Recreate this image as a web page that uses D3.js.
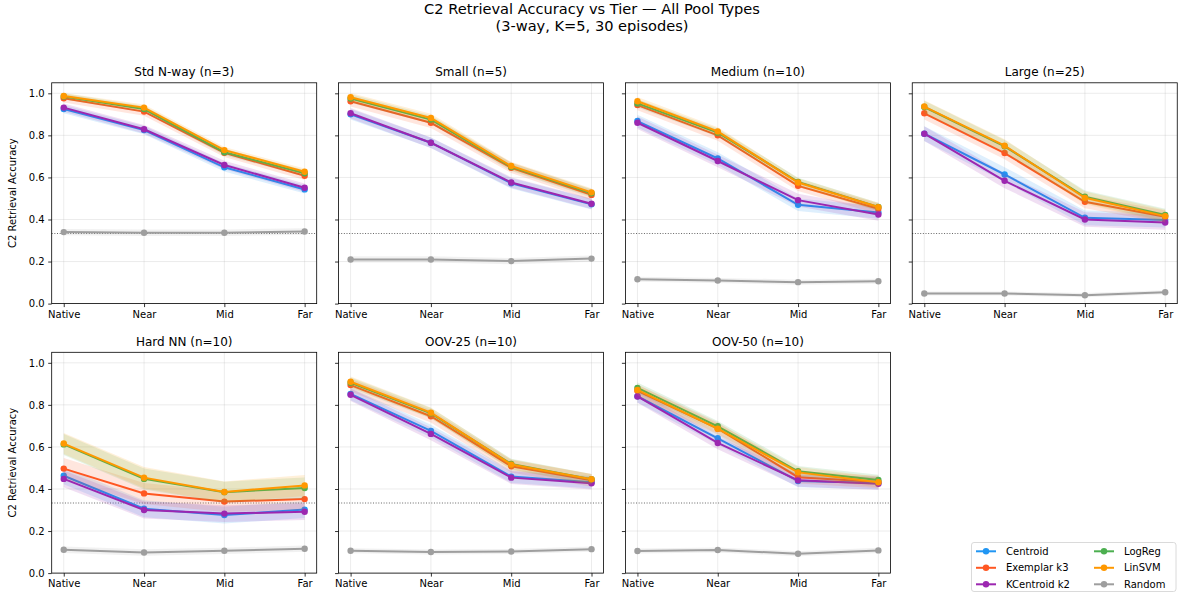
<!DOCTYPE html>
<html>
<head>
<meta charset="utf-8">
<script src="https://cdn.jsdelivr.net/npm/d3@7"></script>
<style>
  html, body { margin: 0; padding: 0; background: #fff; }
  svg { display: block; font-family: "DejaVu Sans", sans-serif; }
</style>
</head>
<body>
<svg id="chart" width="1179" height="594"></svg>
<script>
// ---------------- data ----------------
const tiers = ["Native", "Near", "Mid", "Far"];
const panelTitles = ["Std N-way (n=3)", "Small (n=5)", "Medium (n=10)", "Large (n=25)",
                     "Hard NN (n=10)", "OOV-25 (n=10)", "OOV-50 (n=10)"];
const seriesNames = ["Centroid", "Exemplar k3", "KCentroid k2", "LogReg", "LinSVM", "Random"];
const seriesColors = ["#2196F3", "#FF5722", "#9C27B0", "#4CAF50", "#FF9800", "#9E9E9E"];
const yTicks = [0.0, 0.2, 0.4, 0.6, 0.8, 1.0];
const chanceLevel = 1 / 3;

// values per panel (rows) x tier (cols)
const centroid = [
  [0.925, 0.825, 0.648, 0.543],
  [0.900, 0.765, 0.572, 0.472],
  [0.868, 0.690, 0.470, 0.433],
  [0.808, 0.614, 0.408, 0.397],
  [0.463, 0.306, 0.276, 0.302],
  [0.852, 0.676, 0.459, 0.432],
  [0.841, 0.641, 0.438, 0.429]
];
const exemplarK3 = [
  [0.976, 0.913, 0.717, 0.608],
  [0.962, 0.860, 0.646, 0.517],
  [0.944, 0.800, 0.560, 0.451],
  [0.905, 0.716, 0.484, 0.413],
  [0.497, 0.379, 0.340, 0.352],
  [0.894, 0.746, 0.508, 0.441],
  [0.867, 0.687, 0.456, 0.433]
];
const kcentroidK2 = [
  [0.932, 0.829, 0.659, 0.551],
  [0.905, 0.765, 0.576, 0.475],
  [0.860, 0.678, 0.492, 0.424],
  [0.808, 0.584, 0.400, 0.386],
  [0.448, 0.300, 0.283, 0.292],
  [0.848, 0.662, 0.454, 0.427],
  [0.840, 0.619, 0.441, 0.425]
];
const logReg = [
  [0.985, 0.925, 0.720, 0.620],
  [0.975, 0.875, 0.650, 0.525],
  [0.952, 0.813, 0.579, 0.460],
  [0.935, 0.748, 0.508, 0.421],
  [0.612, 0.448, 0.385, 0.405],
  [0.905, 0.760, 0.519, 0.446],
  [0.881, 0.698, 0.484, 0.443]
];
const linSVM = [
  [0.987, 0.932, 0.730, 0.627],
  [0.981, 0.883, 0.654, 0.529],
  [0.962, 0.819, 0.576, 0.459],
  [0.937, 0.751, 0.503, 0.416],
  [0.616, 0.454, 0.386, 0.417],
  [0.910, 0.763, 0.516, 0.446],
  [0.871, 0.687, 0.479, 0.432]
];
const random = [
  [0.340, 0.337, 0.337, 0.343],
  [0.210, 0.210, 0.202, 0.214],
  [0.116, 0.110, 0.102, 0.106],
  [0.048, 0.048, 0.040, 0.054],
  [0.111, 0.098, 0.106, 0.116],
  [0.106, 0.100, 0.103, 0.114],
  [0.105, 0.110, 0.092, 0.108]
];
// 95% CI half-widths per panel (rows) x series (cols)
const ciHalf = [
  [0.020, 0.020, 0.020, 0.015, 0.015, 0.015],
  [0.025, 0.025, 0.025, 0.020, 0.020, 0.015],
  [0.030, 0.025, 0.030, 0.020, 0.020, 0.012],
  [0.035, 0.030, 0.035, 0.030, 0.030, 0.010],
  [0.040, 0.050, 0.040, 0.050, 0.050, 0.015],
  [0.030, 0.030, 0.030, 0.025, 0.025, 0.012],
  [0.030, 0.030, 0.030, 0.025, 0.025, 0.012]
];
const seriesData = [centroid, exemplarK3, kcentroidK2, logReg, linSVM, random];

// ---------------- layout ----------------
const svg = d3.select("#chart");
const axLeft0 = 51.7, axStep = 286.85, axW = 265;
const rowTops = [82.8, 352.3], axH = 220.8;

svg.append("text").attr("x", 592).attr("y", 14)
  .attr("text-anchor", "middle").attr("font-size", "14.6px").attr("fill", "#000")
  .text("C2 Retrieval Accuracy vs Tier — All Pool Types");
svg.append("text").attr("x", 592).attr("y", 31)
  .attr("text-anchor", "middle").attr("font-size", "14.6px").attr("fill", "#000")
  .text("(3-way, K=5, 30 episodes)");

panelTitles.forEach((title, p) => {
  const row = Math.floor(p / 4), col = p % 4;
  const x0 = axLeft0 + col * axStep, y0 = rowTops[row];
  const g = svg.append("g").attr("transform", `translate(${x0},${y0})`);

  const x = d3.scalePoint().domain(tiers).range([0, axW]).padding(0);
  // emulate matplotlib 5% margins on categorical axis
  const xi = d3.scaleLinear().domain([-0.15, 3.15]).range([0, axW]);
  const xp = t => xi(tiers.indexOf(t));
  const y = d3.scaleLinear().domain([0, 1.05]).range([axH, 0]);

  // grid
  g.append("g").selectAll("line.gy").data(yTicks).join("line")
    .attr("x1", 0).attr("x2", axW).attr("y1", d => y(d)).attr("y2", d => y(d))
    .attr("stroke", "#b0b0b0").attr("stroke-opacity", 0.3).attr("stroke-width", 0.8);
  g.append("g").selectAll("line.gx").data(tiers).join("line")
    .attr("x1", d => xp(d)).attr("x2", d => xp(d)).attr("y1", 0).attr("y2", axH)
    .attr("stroke", "#b0b0b0").attr("stroke-opacity", 0.3).attr("stroke-width", 0.8);

  // chance line
  g.append("line").attr("x1", 0).attr("x2", axW)
    .attr("y1", y(chanceLevel)).attr("y2", y(chanceLevel))
    .attr("stroke", "#000").attr("stroke-opacity", 0.6).attr("stroke-width", 1)
    .attr("stroke-dasharray", "1,1.65");

  // series
  seriesData.forEach((sd, s) => {
    const vals = sd[p];
    const pts = tiers.map((t, i) => ({ t, v: vals[i] }));
    const ci = ciHalf[p][s];
    const area = d3.area().x(d => xp(d.t)).y0(d => y(d.v - ci)).y1(d => y(d.v + ci));
    g.append("path").datum(pts).attr("d", area)
      .attr("fill", seriesColors[s]).attr("fill-opacity", 0.15).attr("stroke", "none");
    const line = d3.line().x(d => xp(d.t)).y(d => y(d.v));
    g.append("path").datum(pts).attr("d", line)
      .attr("fill", "none").attr("stroke", seriesColors[s]).attr("stroke-width", 2);
    g.append("g").selectAll("circle").data(pts).join("circle")
      .attr("cx", d => xp(d.t)).attr("cy", d => y(d.v)).attr("r", 3.2)
      .attr("fill", seriesColors[s]);
  });

  // frame
  g.append("rect").attr("x", 0).attr("y", 0).attr("width", axW).attr("height", axH)
    .attr("fill", "none").attr("stroke", "#000").attr("stroke-width", 0.8);

  // axes
  const yAxis = d3.axisLeft(y).tickValues(yTicks).tickSize(3.5).tickPadding(3.5)
    .tickFormat(col === 0 ? d3.format(".1f") : () => "");
  const ya = g.append("g").call(yAxis);
  ya.select(".domain").remove();
  ya.selectAll("line").attr("stroke", "#000").attr("stroke-width", 0.8);
  ya.selectAll("text").attr("font-size", "10px").attr("fill", "#000")
    .attr("font-family", "DejaVu Sans, sans-serif");

  const xAxis = d3.axisBottom(xi).tickValues([0, 1, 2, 3]).tickSize(3.5).tickPadding(3.5)
    .tickFormat(i => tiers[i]);
  const xa = g.append("g").attr("transform", `translate(0,${axH})`).call(xAxis);
  xa.select(".domain").remove();
  xa.selectAll("line").attr("stroke", "#000").attr("stroke-width", 0.8);
  xa.selectAll("text").attr("font-size", "10px").attr("fill", "#000")
    .attr("font-family", "DejaVu Sans, sans-serif");

  // panel title
  g.append("text").attr("x", axW / 2).attr("y", -6.5).attr("text-anchor", "middle")
    .attr("font-size", "12px").attr("fill", "#000").text(title);

  if (col === 0) {
    g.append("text").attr("transform", `translate(${-35.5},${axH / 2}) rotate(-90)`)
      .attr("text-anchor", "middle").attr("font-size", "10px").attr("fill", "#000")
      .text("C2 Retrieval Accuracy");
  }
});

// ---------------- legend ----------------
const lg = svg.append("g").attr("transform", "translate(971.5,542.5)");
lg.append("rect").attr("x", 0).attr("y", 0).attr("width", 204.5).attr("height", 49)
  .attr("rx", 2.5).attr("fill", "#fff").attr("fill-opacity", 0.8)
  .attr("stroke", "#d0d0d0").attr("stroke-width", 0.8);
seriesNames.forEach((name, s) => {
  const c = Math.floor(s / 3), r = s % 3;
  const hx = 4.5 + c * 118, hy = 8.8 + r * 16.5;
  lg.append("line").attr("x1", hx).attr("x2", hx + 20).attr("y1", hy).attr("y2", hy)
    .attr("stroke", seriesColors[s]).attr("stroke-width", 2);
  lg.append("circle").attr("cx", hx + 10).attr("cy", hy).attr("r", 3.2).attr("fill", seriesColors[s]);
  lg.append("text").attr("x", hx + 30).attr("y", hy + 3.6).attr("font-size", "10px")
    .attr("fill", "#000").text(name);
});
</script>
</body>
</html>
